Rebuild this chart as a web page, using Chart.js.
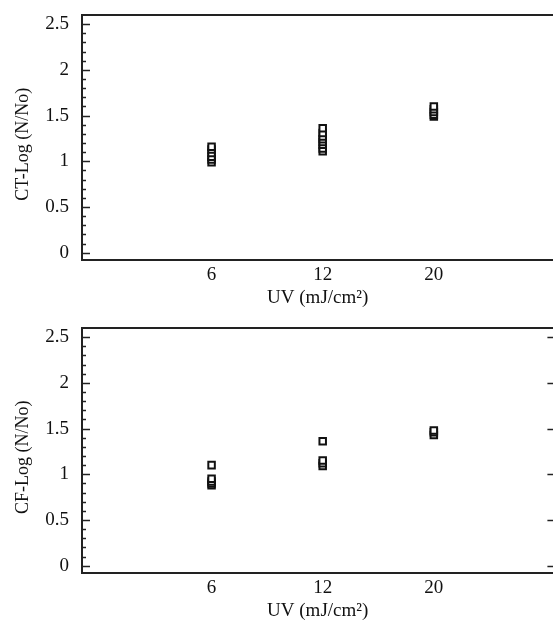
<!DOCTYPE html>
<html>
<head>
<meta charset="utf-8">
<script src="https://cdn.jsdelivr.net/npm/chart.js@4"></script>
<style>
html,body{margin:0;padding:0;background:#fff;overflow:hidden;width:553px;height:626px;}
.wrap{position:absolute;left:0;width:560px;height:313px;}
</style>
</head>
<body>
<div class="wrap" style="top:0"><canvas id="c1" width="560" height="313"></canvas></div>
<div class="wrap" style="top:313px"><canvas id="c2" width="560" height="313"></canvas></div>
<script>
// ---- data ----
const uvLabels = ['6', '12', '20'];
const yTickValues = [0, 0.5, 1, 1.5, 2, 2.5];
// CT-Log (N/No)
const ct6 = [0.99, 1.02, 1.05, 1.09, 1.13, 1.16];
const ct12 = [1.11, 1.14, 1.18, 1.21, 1.24, 1.27, 1.31, 1.36];
const ct20 = [1.49, 1.51, 1.54, 1.57, 1.60];
// CF-Log (N/No)
const cf6 = [0.88, 0.90, 0.92, 0.95, 1.10];
const cf12 = [1.09, 1.12, 1.15, 1.36];
const cf20 = [1.43, 1.46, 1.48];

const FONT = "'Liberation Serif', 'Times New Roman', serif";
const INK = '#111';
const TITLE_PAD = '\u00A0\u00A0\u00A0';

function toPoints(groups) {
  const pts = [];
  groups.forEach((g, i) => g.forEach(v => pts.push({x: i + 1, y: v})));
  return pts;
}

const framePlugin = {
  id: 'frame',
  afterDraw(chart, args, opts) {
    const {ctx, chartArea: a} = chart;
    const ys = chart.scales.y;
    ctx.save();
    ctx.strokeStyle = '#222';
    ctx.lineWidth = 2;
    ctx.beginPath();
    ctx.moveTo(a.left - 1, a.top);
    ctx.lineTo(a.right + 10, a.top);
    ctx.stroke();
    ctx.lineWidth = 1.5;
    for (let k = 0; k <= 25; k++) {
      const v = k / 10;
      const y = Math.round(ys.getPixelForValue(v)) + 0.5;
      const len = (k % 5 === 0) ? 8 : 4;
      ctx.beginPath();
      ctx.moveTo(a.left, y);
      ctx.lineTo(a.left + len, y);
      ctx.stroke();
      if (opts.rightTicks && k % 5 === 0) {
        ctx.beginPath();
        ctx.moveTo(a.right, y);
        ctx.lineTo(a.right - 6, y);
        ctx.stroke();
      }
    }
    ctx.restore();
  }
};

function makeChart(id, groups, yTitle, rightTicks) {
  return new Chart(document.getElementById(id), {
    type: 'scatter',
    data: {
      datasets: [{
        data: toPoints(groups),
        pointStyle: 'rect',
        pointRadius: 4.6,
        pointHoverRadius: 4.6,
        borderColor: INK,
        backgroundColor: '#fff',
        borderWidth: 2
      }]
    },
    options: {
      responsive: false,
      animation: false,
      layout: {padding: {top: 15, right: 5, bottom: 0, left: 0}},
      plugins: {legend: {display: false}, tooltip: {enabled: false}, frame: {rightTicks}},
      scales: {
        x: {
          type: 'linear',
          min: -0.166,
          max: 4.076,
          afterBuildTicks: s => { s.ticks = uvLabels.map((_, i) => ({value: i + 1})); },
          afterFit: s => { s.height = 53; s.paddingLeft = 0; s.paddingRight = 0; },
          ticks: {
            callback: v => uvLabels[v - 1],
            font: {family: FONT, size: 19},
            color: INK,
            padding: 4,
            maxRotation: 0,
            autoSkip: false
          },
          grid: {display: true, drawOnChartArea: false, drawTicks: false},
          border: {display: true, color: '#222', width: 2},
          title: {
            display: true,
            text: 'UV (mJ/cm²)',
            font: {family: FONT, size: 19},
            color: INK,
            padding: {top: 0, bottom: 4}
          }
        },
        y: {
          type: 'linear',
          min: -0.08,
          max: 2.6,
          afterBuildTicks: s => { s.ticks = yTickValues.map(v => ({value: v})); },
          afterFit: s => { s.width = 82; s.paddingTop = 0; s.paddingBottom = 0; },
          ticks: {
            callback: v => String(v),
            font: {family: FONT, size: 19},
            color: INK,
            padding: 13
          },
          grid: {display: true, drawOnChartArea: false, drawTicks: false},
          border: {display: true, color: '#222', width: 2},
          title: {
            display: true,
            text: yTitle + TITLE_PAD,
            font: {family: FONT, size: 18},
            color: INK,
            padding: {top: 12, bottom: 0}
          }
        }
      }
    },
    plugins: [framePlugin]
  });
}

makeChart('c1', [ct6, ct12, ct20], 'CT-Log (N/No)', false);
makeChart('c2', [cf6, cf12, cf20], 'CF-Log (N/No)', true);
</script>
</body>
</html>
